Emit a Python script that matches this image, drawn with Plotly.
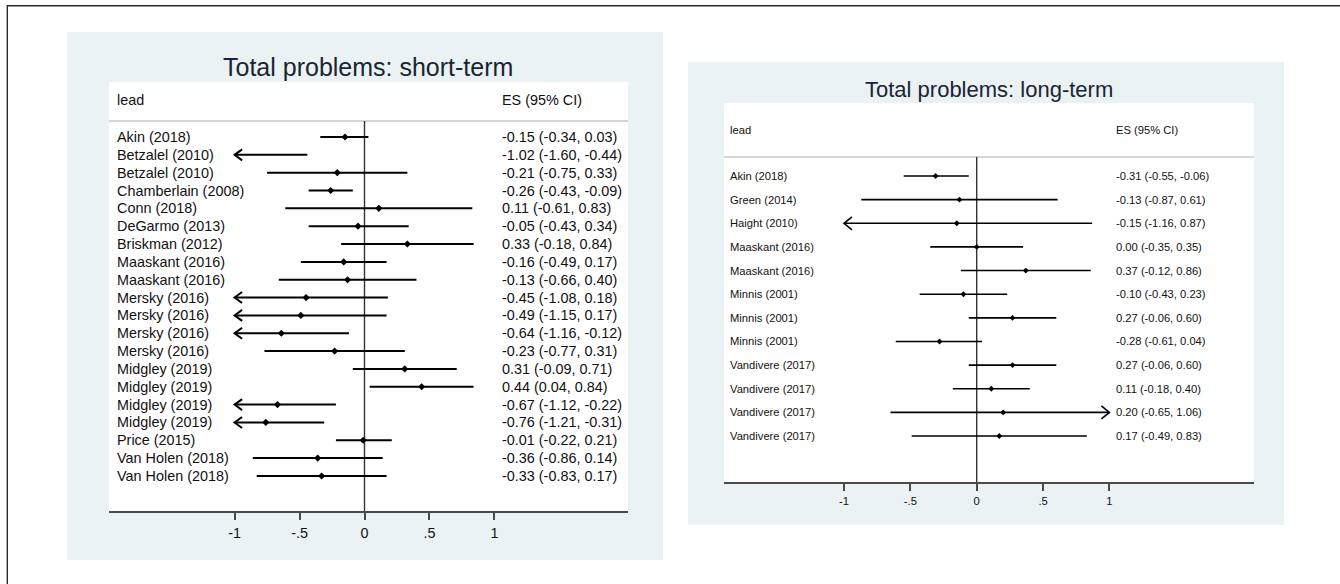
import plotly.graph_objects as go

# ---------------- data ----------------
names_st = ["Akin (2018)", "Betzalel (2010)", "Betzalel (2010)", "Chamberlain (2008)",
            "Conn (2018)", "DeGarmo (2013)", "Briskman (2012)", "Maaskant (2016)",
            "Maaskant (2016)", "Mersky (2016)", "Mersky (2016)", "Mersky (2016)",
            "Mersky (2016)", "Midgley (2019)", "Midgley (2019)", "Midgley (2019)",
            "Midgley (2019)", "Price (2015)", "Van Holen (2018)", "Van Holen (2018)"]
es_st = [-0.15, -1.02, -0.21, -0.26, 0.11, -0.05, 0.33, -0.16, -0.13, -0.45,
         -0.49, -0.64, -0.23, 0.31, 0.44, -0.67, -0.76, -0.01, -0.36, -0.33]
lo_st = [-0.34, -1.60, -0.75, -0.43, -0.61, -0.43, -0.18, -0.49, -0.66, -1.08,
         -1.15, -1.16, -0.77, -0.09, 0.04, -1.12, -1.21, -0.22, -0.86, -0.83]
hi_st = [0.03, -0.44, 0.33, -0.09, 0.83, 0.34, 0.84, 0.17, 0.40, 0.18,
         0.17, -0.12, 0.31, 0.71, 0.84, -0.22, -0.31, 0.21, 0.14, 0.17]

names_lt = ["Akin (2018)", "Green (2014)", "Haight (2010)", "Maaskant (2016)",
            "Maaskant (2016)", "Minnis (2001)", "Minnis (2001)", "Minnis (2001)",
            "Vandivere (2017)", "Vandivere (2017)", "Vandivere (2017)", "Vandivere (2017)"]
es_lt = [-0.31, -0.13, -0.15, 0.00, 0.37, -0.10, 0.27, -0.28, 0.27, 0.11, 0.20, 0.17]
lo_lt = [-0.55, -0.87, -1.16, -0.35, -0.12, -0.43, -0.06, -0.61, -0.06, -0.18, -0.65, -0.49]
hi_lt = [-0.06, 0.61, 0.87, 0.35, 0.86, 0.23, 0.60, 0.04, 0.60, 0.40, 1.06, 0.83]

titles = ["Total problems: short-term", "Total problems: long-term"]
tick_vals = [-1, -0.5, 0, 0.5, 1]
tick_text = ["-1", "-.5", "0", ".5", "1"]
header_left = "lead"
header_right = "ES (95% CI)"
x_min, x_max = -1, 1

# ---------------- layout constants (pixels) ----------------
W, H = 1340, 584
FONT = "Liberation Sans, Arial, sans-serif"
BG = "#eaf2f3"
TITLE_COLOR = "#1b2433"
AXIS_COLOR = "#4a4a4a"

panels = [
    dict(names=names_st, es=es_st, lo=lo_st, hi=hi_st, title=titles[0],
         bg=(67, 32, 663, 560), white=(109, 82, 628, 511),
         zero_px=364.5, unit_px=129.9, row0=137, step=17.84,
         head_px=100, sep_px=121, name_px=116, es_px=501,
         title_xy=(368, 67), title_size=25, font=14.4, tick_font=14.4,
         lw=2.0, msize=5.5, chev=(7.5, 5.5), standoff=1, ticklen=7),
    dict(names=names_lt, es=es_lt, lo=lo_lt, hi=hi_lt, title=titles[1],
         bg=(688, 62, 1284, 525), white=(724, 103, 1254, 482),
         zero_px=976.7, unit_px=132.7, row0=176, step=23.64,
         head_px=130, sep_px=157, name_px=729, es_px=1115,
         title_xy=(989, 89), title_size=22, font=11.2, tick_font=11.2,
         lw=1.6, msize=4.5, chev=(8, 6.5), standoff=1, ticklen=7),
]

def px(p):
    return p / W

def py(p):
    return 1 - p / H

fig = go.Figure()
shapes = []
annotations = []

# outer frame (top and left edges visible)
shapes.append(dict(type="rect", xref="paper", yref="paper",
                   x0=px(7.3), x1=1.02, y0=-0.02, y1=py(5.7),
                   line=dict(color="#2a2a2a", width=1.4), fillcolor="rgba(0,0,0,0)",
                   layer="above"))

for k, p in enumerate(panels):
    sfx = "" if k == 0 else str(k + 1)
    xa, ya = "x" + sfx, "y" + sfx
    wx0, wy0, wx1, wy1 = p["white"]
    bx0, by0, bx1, by1 = p["bg"]
    n = len(p["names"])
    rows = list(range(n))

    xr = [(wx0 - p["zero_px"]) / p["unit_px"], (wx1 - p["zero_px"]) / p["unit_px"]]
    yr = [(wy1 - p["row0"]) / p["step"], (wy0 - p["row0"]) / p["step"]]

    fig.layout["xaxis" + sfx] = dict(
        domain=[px(wx0), px(wx1)], range=xr, anchor=ya,
        tickvals=tick_vals, ticktext=tick_text, ticks="outside", ticklen=p["ticklen"],
        tickwidth=1.5, tickcolor=AXIS_COLOR, showline=True, linecolor=AXIS_COLOR,
        linewidth=2, showgrid=False, zeroline=False, fixedrange=True,
        ticklabelstandoff=p["standoff"],
        tickfont=dict(family=FONT, size=p["tick_font"], color="#111111"))
    fig.layout["yaxis" + sfx] = dict(
        domain=[py(wy1), py(wy0)], range=yr, anchor=xa, visible=False,
        showgrid=False, zeroline=False, fixedrange=True)

    # panel background and white plot region
    shapes.append(dict(type="rect", xref="paper", yref="paper",
                       x0=px(bx0), x1=px(bx1), y0=py(by1), y1=py(by0),
                       fillcolor=BG, line=dict(width=0), layer="below"))
    shapes.append(dict(type="rect", xref="paper", yref="paper",
                       x0=px(wx0), x1=px(wx1), y0=py(wy1), y1=py(wy0),
                       fillcolor="white", line=dict(width=0), layer="below"))
    # header separator
    shapes.append(dict(type="line", xref="paper", yref="paper",
                       x0=px(wx0), x1=px(wx1), y0=py(p["sep_px"]), y1=py(p["sep_px"]),
                       line=dict(color="#d6d6d6", width=1.8), layer="below"))
    # zero line
    shapes.append(dict(type="line", xref=xa, yref="paper",
                       x0=0, x1=0, y0=py(wy1), y1=py(p["sep_px"]),
                       line=dict(color="#333333", width=1.4), layer="below"))

    # CI lines (clipped to the displayed scale)
    lx, ly = [], []
    for i in rows:
        lx += [max(p["lo"][i], x_min), min(p["hi"][i], x_max), None]
        ly += [i, i, None]
    fig.add_trace(go.Scatter(x=lx, y=ly, mode="lines", xaxis=xa, yaxis=ya,
                             line=dict(color="black", width=p["lw"]),
                             hoverinfo="skip", showlegend=False))

    # arrow chevrons where CI exceeds the scale
    dx = p["chev"][0] / p["unit_px"]
    dy = p["chev"][1] / p["step"]
    cx, cy = [], []
    for i in rows:
        if p["lo"][i] < x_min:
            cx += [x_min + dx, x_min, x_min + dx, None]
            cy += [i - dy, i, i + dy, None]
        if p["hi"][i] > x_max:
            cx += [x_max - dx, x_max, x_max - dx, None]
            cy += [i - dy, i, i + dy, None]
    if cx:
        fig.add_trace(go.Scatter(x=cx, y=cy, mode="lines", xaxis=xa, yaxis=ya,
                                 line=dict(color="black", width=p["lw"]),
                                 hoverinfo="skip", showlegend=False))

    # point estimates
    mx = [p["es"][i] for i in rows if x_min <= p["es"][i] <= x_max]
    my = [i for i in rows if x_min <= p["es"][i] <= x_max]
    fig.add_trace(go.Scatter(x=mx, y=my, mode="markers", xaxis=xa, yaxis=ya,
                             marker=dict(symbol="diamond", size=p["msize"], color="black",
                                         line=dict(width=0)),
                             hoverinfo="skip", showlegend=False))

    # text columns
    tf = dict(family=FONT, size=p["font"], color="#111111")
    for i in rows:
        annotations.append(dict(text=p["names"][i], xref="paper", yref=ya,
                                x=px(p["name_px"]), y=i, xanchor="left", yanchor="middle",
                                showarrow=False, font=tf, borderpad=0))
        es_txt = f"{p['es'][i]:.2f} ({p['lo'][i]:.2f}, {p['hi'][i]:.2f})"
        annotations.append(dict(text=es_txt, xref="paper", yref=ya,
                                x=px(p["es_px"]), y=i, xanchor="left", yanchor="middle",
                                showarrow=False, font=tf, borderpad=0))
    annotations.append(dict(text=header_left, xref="paper", yref="paper",
                            x=px(p["name_px"]), y=py(p["head_px"]), xanchor="left",
                            yanchor="middle", showarrow=False, font=tf, borderpad=0))
    annotations.append(dict(text=header_right, xref="paper", yref="paper",
                            x=px(p["es_px"]), y=py(p["head_px"]), xanchor="left",
                            yanchor="middle", showarrow=False, font=tf, borderpad=0))
    # title
    annotations.append(dict(text=p["title"], xref="paper", yref="paper",
                            x=px(p["title_xy"][0]), y=py(p["title_xy"][1]),
                            xanchor="center", yanchor="middle", showarrow=False,
                            font=dict(family=FONT, size=p["title_size"], color=TITLE_COLOR)))

fig.update_layout(width=W, height=H, margin=dict(l=0, r=0, t=0, b=0, pad=0),
                  paper_bgcolor="white", plot_bgcolor="rgba(0,0,0,0)",
                  shapes=shapes, annotations=annotations, showlegend=False,
                  font=dict(family=FONT))

fig.write_html("out.html", config={"displayModeBar": False},
               post_script="document.body.style.margin='0';document.body.style.overflow='hidden';")
